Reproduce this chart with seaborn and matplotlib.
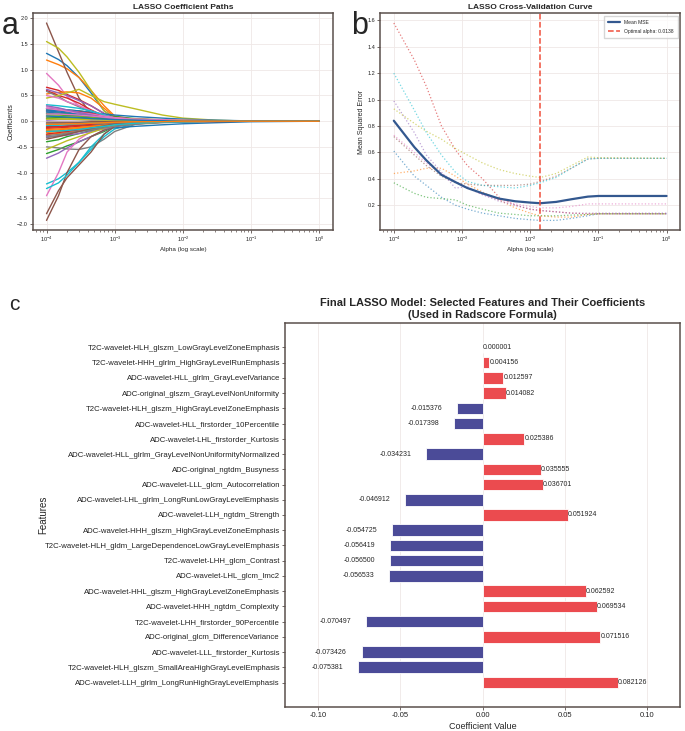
import numpy as np
import pandas as pd
import seaborn as sns
import matplotlib
matplotlib.use("Agg")
import matplotlib.pyplot as plt

# ---------- panel a : coefficient paths ----------
path_alphas = [1e-4, 1.5e-4, 2e-4, 3e-4, 4.5e-4, 7e-4, 1e-3, 2e-3, 5e-3, 1e-2, 3e-2, 1e-1, 1.0]
coef_paths = [
    [1.32, 1.2, 1.08, 0.85, 0.55, 0.2, 0.06, 0.02, 0.01, 0, 0, 0, 0],
    [1.19, 1.1, 1.02, 0.85, 0.6, 0.3, 0.1, 0.03, 0.01, 0, 0, 0, 0],
    [-0.63, -0.55, -0.48, -0.4, -0.3, -0.2, -0.1, -0.03, 0, 0, 0, 0, 0],
    [0.66, 0.6, 0.52, 0.42, 0.3, 0.15, 0.05, 0.01, 0, 0, 0, 0, 0],
    [-0.72, -0.62, -0.52, -0.4, -0.3, -0.18, -0.08, -0.02, 0, 0, 0, 0, 0],
    [1.91, 1.35, 0.95, 0.45, 0.15, 0.05, 0.02, 0.01, 0, 0, 0, 0, 0],
    [0.93, 0.7, 0.48, 0.3, 0.2, 0.1, 0.04, 0.01, 0, 0, 0, 0, 0],
    [-0.5, -0.52, -0.54, -0.55, -0.5, -0.35, -0.2, -0.06, -0.01, 0, 0, 0, 0],
    [1.55, 1.42, 1.25, 0.95, 0.6, 0.2, 0.05, 0.02, 0, 0, 0, 0, 0],
    [-1.22, -1.12, -1.0, -0.8, -0.55, -0.3, -0.15, -0.05, -0.01, 0, 0, 0, 0],
    [-0.2, -0.2, -0.19, -0.18, -0.17, -0.15, -0.13, -0.1, -0.07, -0.05, -0.03, -0.01, 0],
    [0.53, 0.56, 0.57, 0.55, 0.45, 0.25, 0.08, 0.02, 0, 0, 0, 0, 0],
    [0.24, 0.23, 0.22, 0.2, 0.17, 0.13, 0.09, 0.05, 0.02, 0.01, 0, 0, 0],
    [0.6, 0.5, 0.45, 0.35, 0.22, 0.1, 0.03, 0.01, 0, 0, 0, 0, 0],
    [0.62, 0.55, 0.5, 0.4, 0.3, 0.15, 0.05, 0.01, 0, 0, 0, 0, 0],
    [-1.93, -1.45, -1.0, -0.55, -0.3, -0.17, -0.1, -0.04, -0.01, 0, 0, 0, 0],
    [-1.45, -1.0, -0.6, -0.35, -0.2, -0.1, -0.04, -0.01, 0, 0, 0, 0, 0],
    [0.58, 0.48, 0.38, 0.28, 0.18, 0.08, 0.03, 0.01, 0, 0, 0, 0, 0],
    [0.45, 0.5, 0.55, 0.62, 0.5, 0.38, 0.33, 0.24, 0.12, 0.06, 0.02, 0, 0],
    [-1.31, -1.2, -1.05, -0.8, -0.5, -0.25, -0.1, -0.03, 0, 0, 0, 0, 0],
    [0.25, 0.24, 0.22, 0.2, 0.17, 0.14, 0.12, 0.09, 0.06, 0.04, 0.02, 0.005, 0],
    [-0.26, -0.24, -0.22, -0.19, -0.15, -0.11, -0.07, -0.03, -0.01, 0, 0, 0, 0],
    [-0.4, -0.36, -0.3, -0.24, -0.18, -0.12, -0.07, -0.03, -0.01, 0, 0, 0, 0],
    [0.2, 0.21, 0.2, 0.18, 0.15, 0.11, 0.07, 0.04, 0.02, 0.01, 0, 0, 0],
    [-0.3, -0.29, -0.27, -0.24, -0.2, -0.15, -0.1, -0.05, -0.02, -0.01, 0, 0, 0],
    [-1.8, -1.35, -1.1, -0.85, -0.6, -0.25, -0.1, -0.03, 0, 0, 0, 0, 0],
    [0.5, 0.45, 0.38, 0.3, 0.2, 0.12, 0.06, 0.02, 0, 0, 0, 0, 0],
    [0.16, 0.15, 0.14, 0.12, 0.1, 0.08, 0.06, 0.04, 0.02, 0.01, 0, 0, 0],
    [-0.55, -0.45, -0.38, -0.3, -0.22, -0.14, -0.07, -0.02, 0, 0, 0, 0, 0],
    [0.32, 0.3, 0.28, 0.25, 0.2, 0.12, 0.06, 0.02, 0, 0, 0, 0, 0],
    [0.22, 0.2, 0.18, 0.15, 0.12, 0.08, 0.05, 0.02, 0.01, 0, 0, 0, 0],
    [-0.18, -0.17, -0.15, -0.12, -0.1, -0.07, -0.05, -0.03, -0.01, 0, 0, 0, 0],
    [0.15, 0.16, 0.15, 0.13, 0.1, 0.07, 0.05, 0.03, 0.02, 0.01, 0, 0, 0],
    [-0.25, -0.22, -0.2, -0.16, -0.12, -0.08, -0.05, -0.02, 0, 0, 0, 0, 0],
    [0.08, 0.09, 0.1, 0.1, 0.09, 0.07, 0.05, 0.03, 0.02, 0.01, 0, 0, 0],
    [-0.1, -0.1, -0.09, -0.08, -0.07, -0.05, -0.04, -0.03, -0.02, -0.01, -0.01, 0, 0],
    [0.28, 0.24, 0.2, 0.14, 0.1, 0.06, 0.03, 0.01, 0, 0, 0, 0, 0],
    [-0.32, -0.28, -0.24, -0.2, -0.15, -0.1, -0.06, -0.03, -0.01, 0, 0, 0, 0],
    [0.05, 0.06, 0.06, 0.05, 0.05, 0.04, 0.03, 0.02, 0.01, 0.01, 0, 0, 0],
    [-0.05, -0.04, -0.04, -0.03, -0.03, -0.02, -0.02, -0.01, -0.01, 0, 0, 0, 0],
    [0.18, 0.15, 0.12, 0.1, 0.08, 0.06, 0.04, 0.02, 0.01, 0, 0, 0, 0],
    [-0.22, -0.2, -0.17, -0.14, -0.11, -0.08, -0.06, -0.04, -0.02, -0.01, 0, 0, 0],
    [0.12, 0.12, 0.11, 0.1, 0.08, 0.06, 0.04, 0.02, 0.01, 0, 0, 0, 0],
    [-0.14, -0.13, -0.12, -0.1, -0.08, -0.06, -0.04, -0.02, -0.01, 0, 0, 0, 0],
    [0.02, 0.03, 0.03, 0.03, 0.02, 0.02, 0.02, 0.01, 0.01, 0, 0, 0, 0],
    [-0.02, -0.02, -0.02, -0.02, -0.01, -0.01, -0.01, 0, 0, 0, 0, 0, 0],
    [0.25, 0.22, 0.2, 0.17, 0.14, 0.1, 0.07, 0.04, 0.02, 0.01, 0, 0, 0],
    [-0.28, -0.26, -0.23, -0.2, -0.17, -0.13, -0.1, -0.06, -0.03, -0.01, 0, 0, 0],
    [0.1, 0.1, 0.09, 0.08, 0.07, 0.06, 0.05, 0.04, 0.03, 0.02, 0.01, 0, 0],
    [-0.08, -0.08, -0.07, -0.07, -0.06, -0.05, -0.04, -0.03, -0.02, -0.01, 0, 0, 0],
    [0.2, 0.18, 0.16, 0.13, 0.1, 0.07, 0.04, 0.02, 0.01, 0, 0, 0, 0],
    [-0.16, -0.15, -0.14, -0.12, -0.1, -0.08, -0.06, -0.04, -0.02, -0.01, 0, 0, 0],
    [0.06, 0.07, 0.07, 0.07, 0.06, 0.05, 0.04, 0.03, 0.02, 0.01, 0.01, 0, 0],
    [-0.12, -0.11, -0.1, -0.08, -0.06, -0.04, -0.03, -0.02, -0.01, 0, 0, 0, 0],
    [0.3, 0.26, 0.22, 0.17, 0.12, 0.07, 0.04, 0.02, 0.01, 0, 0, 0, 0],
    [-0.35, -0.3, -0.26, -0.2, -0.14, -0.09, -0.05, -0.02, -0.01, 0, 0, 0, 0],
    [0.14, 0.14, 0.13, 0.12, 0.1, 0.08, 0.06, 0.04, 0.03, 0.02, 0.01, 0, 0],
    [-0.04, -0.05, -0.05, -0.05, -0.04, -0.04, -0.03, -0.02, -0.02, -0.01, 0, 0, 0],
    [0.04, 0.04, 0.04, 0.03, 0.03, 0.02, 0.02, 0.01, 0.01, 0, 0, 0, 0],
    [-0.2, -0.19, -0.18, -0.16, -0.13, -0.1, -0.07, -0.04, -0.02, -0.01, 0, 0, 0],
    [0.1, 0.09, 0.08, 0.07, 0.05, 0.04, 0.03, 0.02, 0.01, 0, 0, 0, 0],
    [-0.06, -0.06, -0.05, -0.05, -0.04, -0.03, -0.02, -0.01, -0.01, 0, 0, 0, 0],
]

# ---------- panel b : cross-validation ----------
cv_alphas = [1e-4, 2e-4, 3e-4, 5e-4, 8e-4, 1.2e-3, 2e-3, 3.5e-3, 6e-3, 1e-2, 1.4e-2, 2.4e-2, 4e-2, 7e-2, 1e-1, 1.0]
mean_mse = [0.84, 0.64, 0.54, 0.43, 0.375, 0.33, 0.29, 0.25, 0.23, 0.22, 0.215, 0.225, 0.245, 0.265, 0.27, 0.27]
fold_mse = [
    [0.61, 0.42, 0.35, 0.26, 0.2, 0.17, 0.14, 0.12, 0.1, 0.09, 0.085, 0.085, 0.1, 0.12, 0.135, 0.135],
    [0.44, 0.46, 0.48, 0.48, 0.42, 0.36, 0.3, 0.24, 0.18, 0.14, 0.12, 0.11, 0.11, 0.13, 0.135, 0.135],
    [0.37, 0.29, 0.26, 0.25, 0.24, 0.2, 0.17, 0.14, 0.13, 0.12, 0.12, 0.12, 0.125, 0.13, 0.135, 0.135],
    [1.58, 1.3, 1.1, 0.8, 0.62, 0.5, 0.4, 0.26, 0.2, 0.17, 0.16, 0.15, 0.14, 0.135, 0.135, 0.135],
    [0.99, 0.75, 0.58, 0.45, 0.33, 0.34, 0.28, 0.23, 0.2, 0.17, 0.16, 0.15, 0.14, 0.14, 0.14, 0.14],
    [0.72, 0.58, 0.5, 0.42, 0.37, 0.36, 0.35, 0.35, 0.35, 0.36, 0.38, 0.42, 0.48, 0.55, 0.555, 0.555],
    [0.73, 0.6, 0.52, 0.44, 0.38, 0.33, 0.28, 0.24, 0.21, 0.19, 0.18, 0.18, 0.19, 0.21, 0.21, 0.21],
    [0.93, 0.82, 0.76, 0.7, 0.63, 0.58, 0.52, 0.47, 0.44, 0.42, 0.41, 0.44, 0.5, 0.565, 0.56, 0.555],
    [1.2, 0.92, 0.75, 0.58, 0.45, 0.38, 0.35, 0.34, 0.33, 0.35, 0.37, 0.41, 0.48, 0.55, 0.555, 0.555],
]
fold_colors = ["tab:blue", "tab:orange", "tab:green", "tab:red", "tab:purple",
               "tab:brown", "tab:pink", "tab:olive", "tab:cyan"]
best_alpha = 0.0138

# ---------- panel c : final coefficients ----------
features = [
    "T2C-wavelet-HLH_glszm_LowGrayLevelZoneEmphasis",
    "T2C-wavelet-HHH_glrlm_HighGrayLevelRunEmphasis",
    "ADC-wavelet-HLL_glrlm_GrayLevelVariance",
    "ADC-original_glszm_GrayLevelNonUniformity",
    "T2C-wavelet-HLH_glszm_HighGrayLevelZoneEmphasis",
    "ADC-wavelet-HLL_firstorder_10Percentile",
    "ADC-wavelet-LHL_firstorder_Kurtosis",
    "ADC-wavelet-HLL_glrlm_GrayLevelNonUniformityNormalized",
    "ADC-original_ngtdm_Busyness",
    "ADC-wavelet-LLL_glcm_Autocorrelation",
    "ADC-wavelet-LHL_glrlm_LongRunLowGrayLevelEmphasis",
    "ADC-wavelet-LLH_ngtdm_Strength",
    "ADC-wavelet-HHH_glszm_HighGrayLevelZoneEmphasis",
    "T2C-wavelet-HLH_gldm_LargeDependenceLowGrayLevelEmphasis",
    "T2C-wavelet-LHH_glcm_Contrast",
    "ADC-wavelet-LHL_glcm_Imc2",
    "ADC-wavelet-HHL_glszm_HighGrayLevelZoneEmphasis",
    "ADC-wavelet-HHH_ngtdm_Complexity",
    "T2C-wavelet-LHH_firstorder_90Percentile",
    "ADC-original_glcm_DifferenceVariance",
    "ADC-wavelet-LLL_firstorder_Kurtosis",
    "T2C-wavelet-HLH_glszm_SmallAreaHighGrayLevelEmphasis",
    "ADC-wavelet-LLH_glrlm_LongRunHighGrayLevelEmphasis",
]
coefs = [0.000001, 0.004156, 0.012597, 0.014082, -0.015376, -0.017398, 0.025386,
         -0.034231, 0.035555, 0.036701, -0.046912, 0.051924, -0.054725, -0.056419,
         -0.056500, -0.056533, 0.062592, 0.069534, -0.070497, 0.071516, -0.073426,
         -0.075381, 0.082126]

sns.set_style("whitegrid", {"axes.edgecolor": "#5a4f4b", "grid.color": "#efe8e6",
                            "xtick.bottom": True, "ytick.left": True})
plt.rcParams["font.family"] = ["Liberation Sans", "DejaVu Sans"]
plt.rcParams["axes.linewidth"] = 1.1
plt.rcParams["xtick.major.size"] = 2
plt.rcParams["ytick.major.size"] = 2
plt.rcParams["xtick.minor.size"] = 1.2
plt.rcParams["xtick.color"] = "#5a4f4b"
plt.rcParams["ytick.color"] = "#5a4f4b"
plt.rcParams["xtick.labelcolor"] = "#222222"
plt.rcParams["ytick.labelcolor"] = "#222222"

fig = plt.figure(figsize=(6.85, 7.31), dpi=100)
ax1 = fig.add_axes([0.048, 0.685, 0.438, 0.297])
ax2 = fig.add_axes([0.555, 0.685, 0.438, 0.297])
ax3 = fig.add_axes([0.416, 0.033, 0.577, 0.525])

# panel a
tab10 = sns.color_palette("tab10")
rows = []
for i, path in enumerate(coef_paths):
    for a, c in zip(path_alphas, path):
        rows.append((i, a, c))
df_a = pd.DataFrame(rows, columns=["feat", "alpha", "coef"])
sns.lineplot(data=df_a, x="alpha", y="coef", hue="feat", estimator=None, sort=False,
             palette=[tab10[i % 10] for i in range(len(coef_paths))], legend=False,
             lw=1, ax=ax1)
ax1.set_xscale("log")
ax1.set_title("LASSO Coefficient Paths", fontsize=6, fontweight="bold", pad=3)
ax1.set_xlabel("Alpha (log scale)", fontsize=4.5, labelpad=2)
ax1.set_ylabel("Coefficients", fontsize=5, labelpad=2)
ax1.set_yticks([-2.0, -1.5, -1.0, -0.5, 0.0, 0.5, 1.0, 1.5, 2.0])

# panel b
rows = []
for i, f in enumerate(fold_mse):
    for a, m in zip(cv_alphas, f):
        rows.append((i, a, m))
df_b = pd.DataFrame(rows, columns=["fold", "alpha", "mse"])
sns.lineplot(data=df_b, x="alpha", y="mse", hue="fold", palette=fold_colors,
             estimator=None, sort=False, legend=False, lw=0.9, ls=":", alpha=0.6, ax=ax2)
sns.lineplot(x=cv_alphas, y=mean_mse, color="#33588f", lw=1.6, label="Mean MSE", ax=ax2)
ax2.axvline(best_alpha, color="#f0503c", ls="--", lw=1.1,
            label=f"Optimal alpha: {best_alpha:.4f}")
ax2.set_xscale("log")
ax2.set_title("LASSO Cross-Validation Curve", fontsize=6, fontweight="bold", pad=3)
ax2.set_xlabel("Alpha (log scale)", fontsize=4.5, labelpad=2)
ax2.set_ylabel("Mean Squared Error", fontsize=5, labelpad=2)
ax2.set_yticks([0.2, 0.4, 0.6, 0.8, 1.0, 1.2, 1.4, 1.6])
ax2.legend(loc="upper right", fontsize=3.6, frameon=True, fancybox=False,
           edgecolor="#cccccc", handlelength=2.5, borderpad=0.8, labelspacing=0.9)

for ax in (ax1, ax2):
    ax.tick_params(axis="both", labelsize=4, pad=1.5, width=0.6)
    ax.tick_params(axis="x", which="minor", bottom=True, width=0.5)
    ax.grid(True, which="major", lw=0.6)
    ax.grid(False, which="minor")

# panel c
bar_colors = ["#eb4b4f" if v > 0 else "#4b4b98" for v in coefs]
sns.barplot(x=coefs, y=features, hue=features, palette=bar_colors, orient="h",
            width=0.76, legend=False, edgecolor="white", linewidth=0.6,
            saturation=1, ax=ax3)
for i, v in enumerate(coefs):
    if v >= 0:
        ax3.text(v, i, f"{v:.6f}", va="center", ha="left", fontsize=5)
    else:
        ax3.text(v - 0.009, i, f"{v:.6f}", va="center", ha="right", fontsize=5)
ax3.set_xlim(-0.12, 0.12)
ax3.set_ylim(len(coefs) - 1 + 1.6, -1.6)
ax3.set_xticks([-0.10, -0.05, 0.0, 0.05, 0.10])
ax3.set_xticklabels(["-0.10", "-0.05", "0.00", "0.05", "0.10"])
ax3.grid(True, axis="x", lw=0.6)
ax3.grid(False, axis="y")
ax3.tick_params(axis="y", labelsize=5.6, pad=1.5, width=0.6)
ax3.tick_params(axis="x", labelsize=5.5, pad=2, width=0.6)
ax3.set_xlabel("Coefficient Value", fontsize=6.5, labelpad=2)
ax3.set_ylabel("Features", fontsize=7)
ax3.yaxis.set_label_coords(-0.6, 0.5)
ax3.set_title("Final LASSO Model: Selected Features and Their Coefficients\n(Used in Radscore Formula)",
              fontsize=8, fontweight="bold", pad=4, linespacing=1.2)

fig.text(0.002, 0.985, "a", fontsize=22, va="top")
fig.text(0.513, 0.985, "b", fontsize=22, va="top")
fig.text(0.014, 0.596, "c", fontsize=15, va="top")

fig.savefig("out.png", dpi=100)
